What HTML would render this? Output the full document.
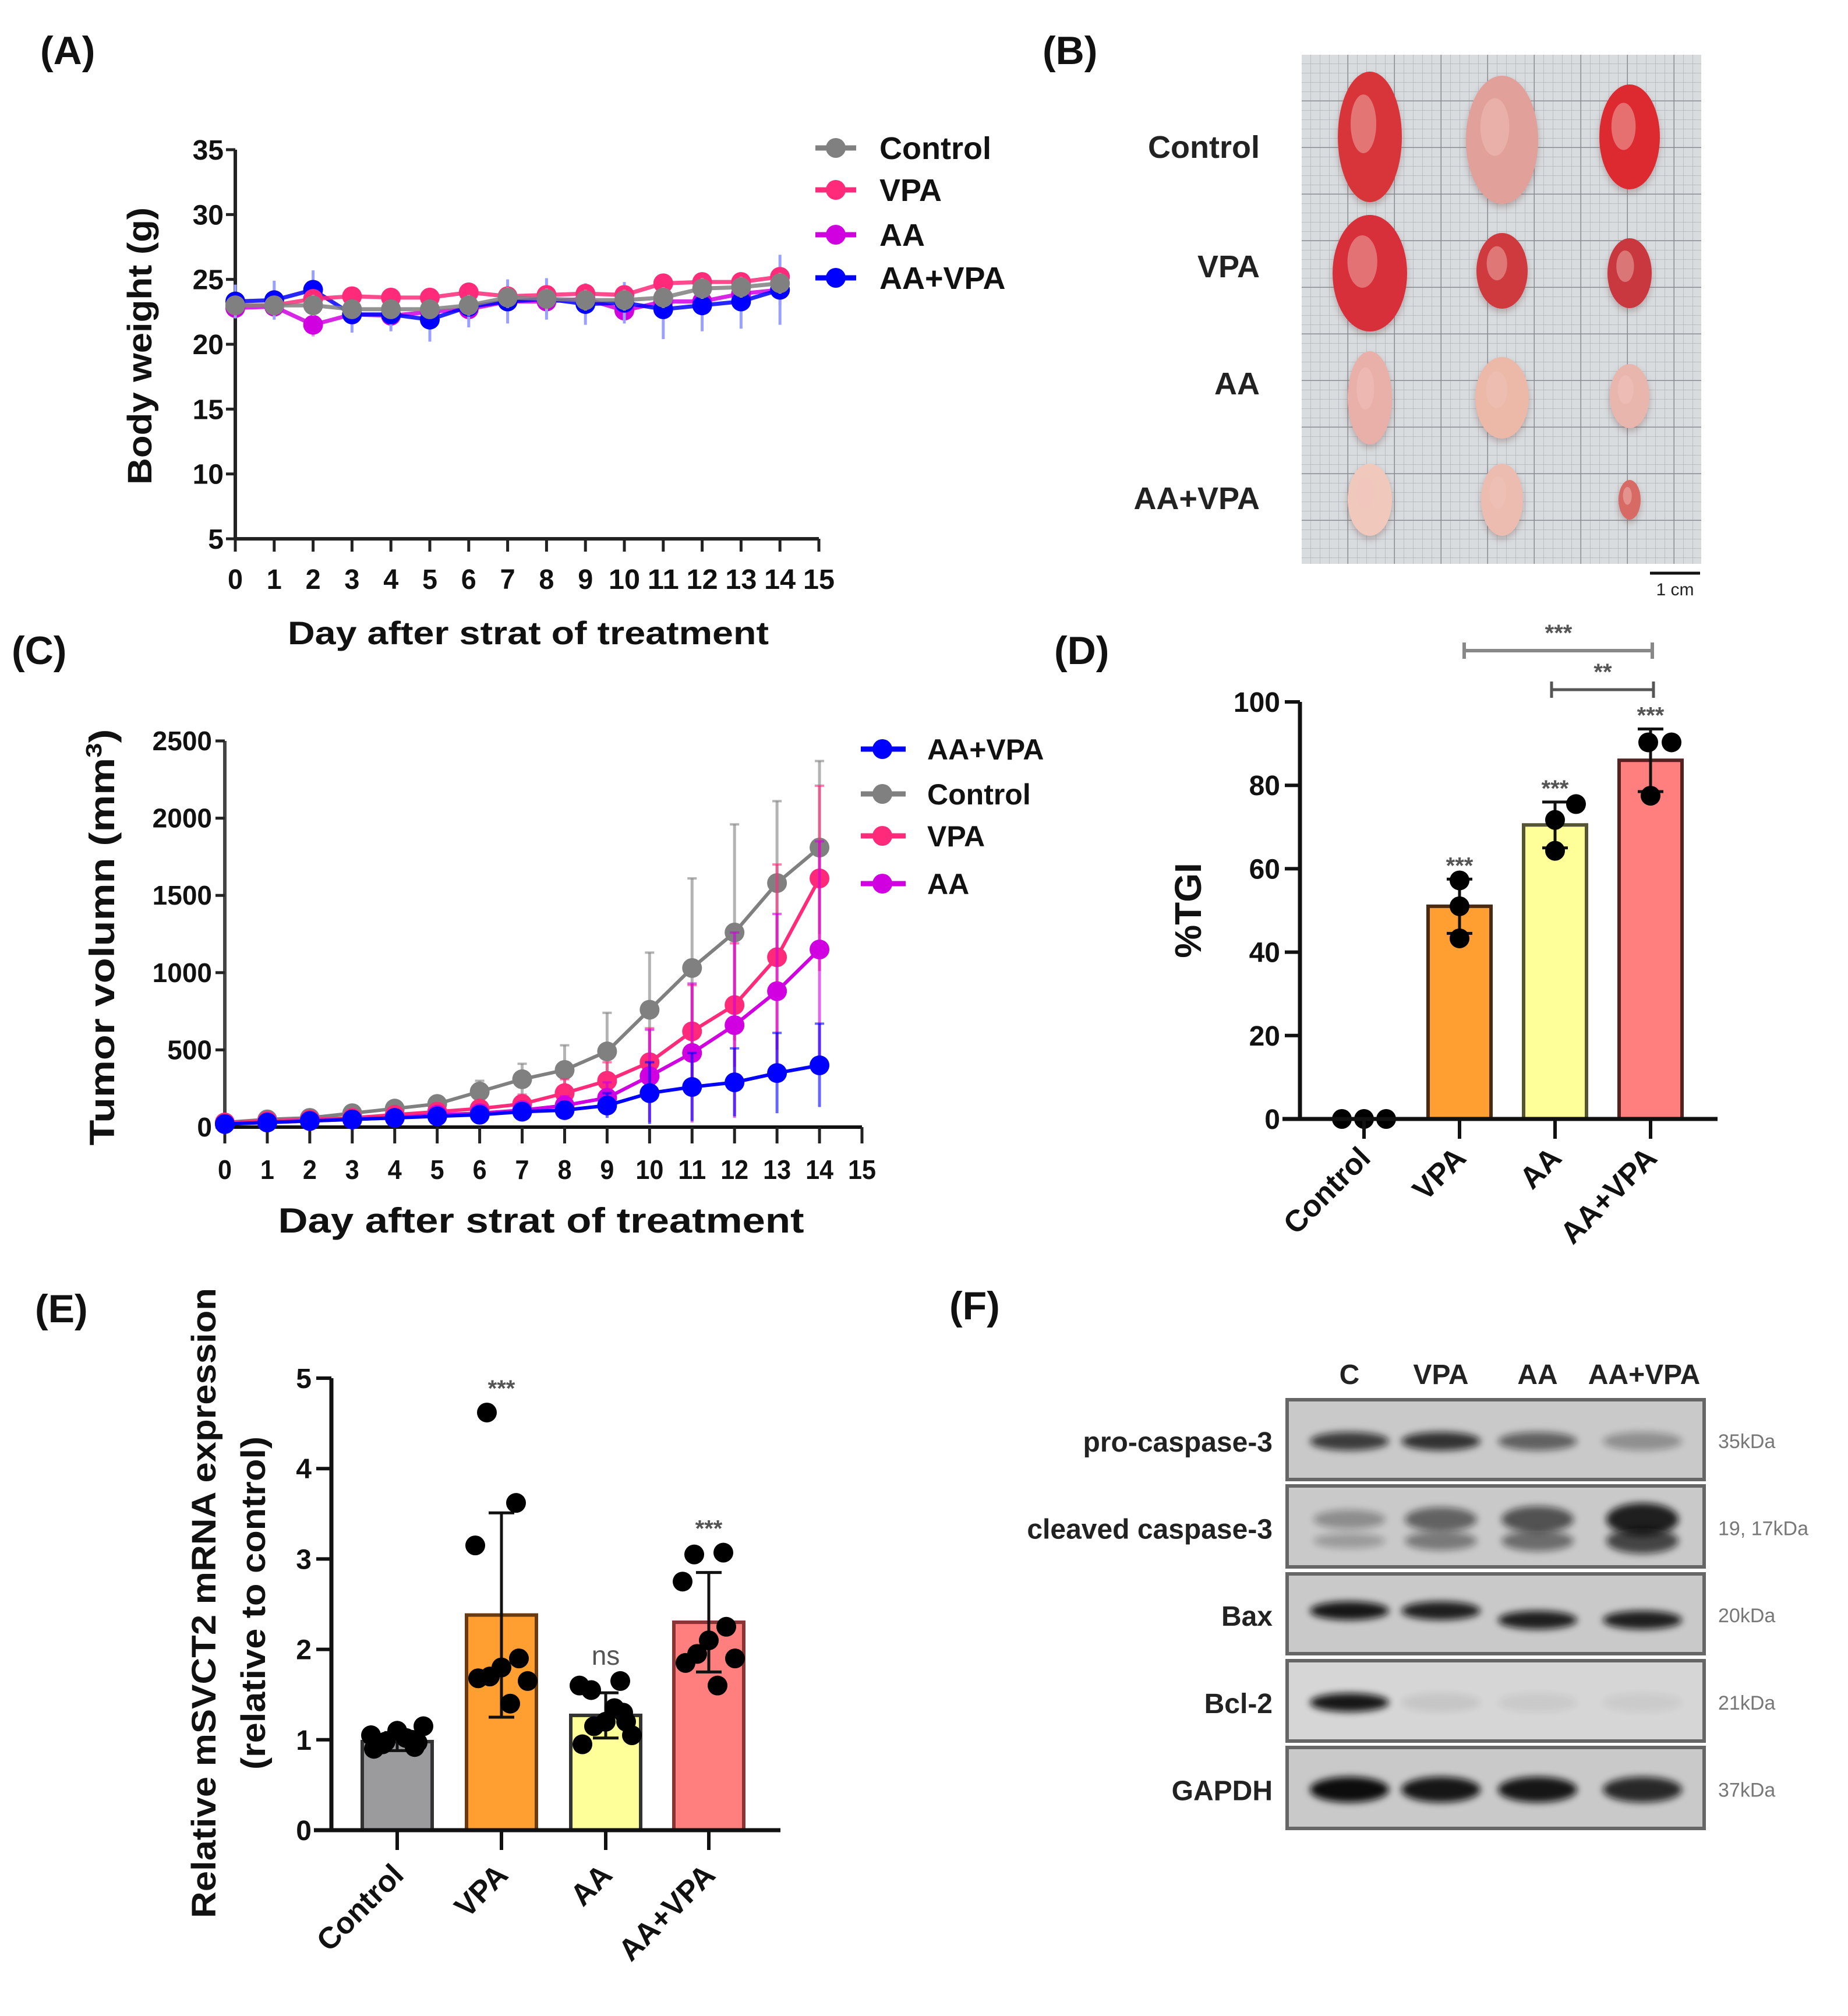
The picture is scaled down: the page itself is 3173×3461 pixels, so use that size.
<!DOCTYPE html>
<html><head><meta charset="utf-8"><style>
html,body{margin:0;padding:0;background:#fff;}
svg{display:block;font-family:"Liberation Sans",Arial,sans-serif;}
</style></head><body>
<svg id="fig" width="3173" height="3461" viewBox="0 0 3173 3461" xmlns="http://www.w3.org/2000/svg">
<defs>
 <filter id="blur6" x="-20%" y="-50%" width="140%" height="200%"><feGaussianBlur stdDeviation="6"/></filter>
 <filter id="blur10" x="-20%" y="-50%" width="140%" height="200%"><feGaussianBlur stdDeviation="10"/></filter>
 <pattern id="grid-minor" width="16" height="16" patternUnits="userSpaceOnUse" x="2235" y="94"><path d="M16 0V16M0 16H16" stroke="#b0b4b8" stroke-width="1.5" fill="none"/></pattern>
 <pattern id="grid-major" width="80" height="80" patternUnits="userSpaceOnUse" x="2235" y="94"><path d="M80 0V80M0 80H80" stroke="#878c90" stroke-width="3" fill="none"/></pattern>
</defs>
<g id="root"></g>
</svg>
<script>
// ---------- Panel A data ----------
const daysA = [0,1,2,3,4,5,6,7,8,9,10,11,12,13,14];
const ticksAx = [0,1,2,3,4,5,6,7,8,9,10,11,12,13,14,15];
const ticksAy = [5,10,15,20,25,30,35];
const seriesNamesA = ["Control","VPA","AA","AA+VPA"];
const bwControl = [23.0,23.0,23.0,22.7,22.7,22.7,23.0,23.6,23.5,23.4,23.4,23.6,24.3,24.4,24.7];
const bwVPA     = [23.0,23.0,23.5,23.7,23.6,23.6,24.0,23.7,23.8,23.9,23.8,24.7,24.8,24.8,25.2];
const bwAA      = [22.8,22.9,21.5,22.3,22.2,22.5,22.7,23.3,23.3,23.5,22.6,23.3,23.3,23.9,24.2];
const bwAAVPA   = [23.3,23.4,24.2,22.3,22.3,21.9,22.9,23.3,23.5,23.1,23.2,22.7,23.0,23.3,24.2];
const sdControl = [0.6,0.6,0.8,0.6,0.6,0.6,0.8,0.8,0.8,0.8,0.8,0.8,0.8,0.8,0.8];
const sdVPA     = [0.6,0.6,0.7,0.6,0.6,0.6,0.7,0.7,0.7,0.7,0.7,0.7,0.7,0.7,0.7];
const sdAA      = [0.8,0.8,0.9,0.8,0.8,0.8,0.9,0.9,0.9,0.9,0.9,0.9,0.9,1.0,1.2];
const sdAAVPA   = [1.3,1.5,1.5,1.4,1.3,1.7,1.6,1.7,1.6,1.6,1.6,2.3,2.0,2.1,2.7];

// ---------- Panel C data ----------
const daysC = [0,1,2,3,4,5,6,7,8,9,10,11,12,13,14];
const ticksCy = [0,500,1000,1500,2000,2500];
const tvControl = [30,50,60,90,120,150,230,310,370,490,760,1030,1260,1580,1810];
const tvVPA     = [30,40,50,60,80,100,120,150,220,300,420,620,790,1100,1610];
const tvAA      = [20,30,40,50,60,80,90,110,140,190,330,480,660,880,1150];
const tvAAVPA   = [20,30,40,50,60,70,80,100,110,140,220,260,290,350,400];
const tsdControl= [10,15,20,30,40,40,70,100,160,250,370,580,700,530,560];
const tsdVPA    = [10,10,15,20,30,30,40,60,90,120,220,300,400,600,600];
const tsdAA     = [10,10,10,15,20,30,40,50,60,100,300,450,600,500,700];
const tsdAAVPA  = [10,10,15,15,20,20,30,40,50,80,200,220,220,260,270];

// ---------- Panel D data ----------
const catsD = ["Control","VPA","AA","AA+VPA"];
const tgiMean = [0,51,70.5,86];
const tgiSD = [0,6.5,5.5,7.5];
const tgiPts = [[0,0,0],[57.2,51,43.3],[75.5,71.7,64.3],[90.3,90.3,77.5]];
const tgiStars = ["","***","***","***"];
const ticksDy = [0,20,40,60,80,100];

// ---------- Panel E data ----------
const catsE = ["Control","VPA","AA","AA+VPA"];
const exMean = [0.98,2.38,1.27,2.3];
const exSD = [0.1,1.13,0.25,0.55];
const exPts = [
 [0.95,1.0,1.05,0.92,1.1,0.98,1.15,0.9,1.02,0.97],
 [4.62,3.62,3.15,1.9,1.8,1.7,1.65,1.68,1.4],
 [1.55,1.65,1.6,1.3,1.2,1.15,1.05,0.95,1.35,1.2],
 [3.05,3.07,2.75,2.25,2.1,1.95,1.9,1.85,1.6]];
const exStars = ["","***","ns","***"];
const ticksEy = [0,1,2,3,4,5];

// ---------- Panel F data ----------
const blotRows = ["pro-caspase-3","cleaved caspase-3","Bax","Bcl-2","GAPDH"];
const blotKDa = ["35kDa","19, 17kDa","20kDa","21kDa","37kDa"];
const blotLanes = ["C","VPA","AA","AA+VPA"];
const blotIntensity = [[0.75,0.8,0.55,0.3],[0.35,0.6,0.7,1.0],[0.95,0.9,0.9,0.9],[0.95,0.08,0.06,0.05],[1.0,0.95,0.95,0.85]];

const NS="http://www.w3.org/2000/svg";
const root=document.getElementById('root');
function mk(tag,attrs,parent){const e=document.createElementNS(NS,tag);for(const k in attrs)e.setAttribute(k,attrs[k]);(parent||root).appendChild(e);return e;}
function txt(s,attrs,parent){const e=mk('text',attrs,parent);e.textContent=s;return e;}
function grp(name){const g=mk('g',{});return g;}

[["(A)",69,110],["(B)",1790,110],["(C)",20,1140],["(D)",1810,1140],["(E)",60,2270],["(F)",1630,2265]].forEach(p=>{
 const t=txt(p[0],{x:p[1],y:p[2],'font-size':68,'font-weight':'bold',fill:'#111'});
 
 
});

// ===== Panel A =====
(function(){
 const g=grp('panel-a-body-weight-chart');
 const x0=404,x1=1406,y0=925,y1=257;
 const sx=d=>x0+(d/15)*(x1-x0), sy=v=>y0-(v-5)/30*(y0-y1);
 mk('line',{x1:x0,y1:y1,x2:x0,y2:y0,stroke:'#222','stroke-width':6},g);
 mk('line',{x1:x0,y1:y0,x2:x1,y2:y0,stroke:'#222','stroke-width':6},g);
 ticksAy.forEach(v=>{mk('line',{x1:x0-16,y1:sy(v),x2:x0,y2:sy(v),stroke:'#222','stroke-width':5},g);
  const t=txt(v,{x:x0-20,y:sy(v)+17,'text-anchor':'end','font-size':48,'font-weight':'bold',fill:'#111'},g);
  });
 ticksAx.forEach(d=>{mk('line',{x1:sx(d),y1:y0,x2:sx(d),y2:y0+22,stroke:'#222','stroke-width':5},g);
  const t=txt(d,{x:sx(d),y:1011,'text-anchor':'middle','font-size':48,'font-weight':'bold',fill:'#111',textLength:d>=10?54:26,lengthAdjust:'spacingAndGlyphs'},g);
  });
 const xt=txt('Day after strat of treatment',{x:907,y:1106,'text-anchor':'middle','font-size':56,'font-weight':'bold',fill:'#111',textLength:826,lengthAdjust:'spacingAndGlyphs'},g);
 
 const yt=txt('Body weight (g)',{x:0,y:0,'text-anchor':'middle','font-size':58,'font-weight':'bold',fill:'#111',transform:'translate(260,594) rotate(-90)',textLength:476,lengthAdjust:'spacingAndGlyphs'},g);
 
 const series=[[bwAA,sdAA,'#d000e0','#f08cf0'],[bwAAVPA,sdAAVPA,'#0000ff','#9aa0ff'],[bwVPA,sdVPA,'#ff2a7a','#ff98bd'],[bwControl,sdControl,'#808080','#b0b0b0']];
 series.forEach((s,si)=>{
  const sg=mk('g',{},g);
  s[0].forEach((v,i)=>{mk('line',{x1:sx(daysA[i]),x2:sx(daysA[i]),y1:sy(v-s[1][i]),y2:sy(v+s[1][i]),stroke:s[3],'stroke-width':5},sg);});
  mk('polyline',{points:s[0].map((v,i)=>sx(daysA[i])+','+sy(v)).join(' '),fill:'none',stroke:s[2],'stroke-width':7,'stroke-opacity':0.85},sg);
  s[0].forEach((v,i)=>{const c=mk('circle',{cx:sx(daysA[i]),cy:sy(v),r:17,fill:s[2]},sg);});
 });
 const leg=[["Control",'#808080'],["VPA",'#ff2a7a'],["AA",'#d000e0'],["AA+VPA",'#0000ff']];
 const ly=[254,326,403,477];
 leg.forEach((l,i)=>{const lg=mk('g',{},g);
  mk('line',{x1:1400,x2:1470,y1:ly[i],y2:ly[i],stroke:l[1],'stroke-width':9},lg);
  mk('circle',{cx:1435,cy:ly[i],r:17,fill:l[1]},lg);
  txt(l[0],{x:1510,y:ly[i]+19,'font-size':54,'font-weight':'bold',fill:'#111'},lg);});
})();

// ===== Panel B photo =====
(function(){
 const g=grp('panel-b-tumor-photo');
 mk('rect',{x:2235,y:94,width:686,height:874,fill:'#d8dcdf'},g);
 mk('rect',{x:2235,y:94,width:686,height:874,fill:'url(#grid-minor)'},g);
 mk('rect',{x:2235,y:94,width:686,height:874,fill:'url(#grid-major)'},g);
 const tum=[[2352,235,55,112,'#d8353a'],[2579,240,62,110,'#e2a09a'],[2798,235,52,90,'#dc2a30'],
  [2352,469,64,100,'#d8303a'],[2579,465,44,65,'#cf3a3e'],[2798,469,38,60,'#c9383e'],
  [2352,683,38,80,'#e8b0a8'],[2579,683,46,70,'#ecb8a8'],[2798,680,34,55,'#e9b6ae'],
  [2352,858,38,62,'#f0c8bc'],[2579,858,36,62,'#ecbcb0'],[2798,858,19,34,'#d86a66']];
 tum.forEach(t=>{mk('ellipse',{cx:t[0],cy:t[1]+6,rx:t[2],ry:t[3],fill:'#7a5a5a',opacity:0.4,filter:'url(#blur6)'},g);
  const e=mk('ellipse',{cx:t[0],cy:t[1],rx:t[2],ry:t[3],fill:t[4]},g);
  mk('ellipse',{cx:t[0]-t[2]*0.2,cy:t[1]-t[3]*0.2,rx:t[2]*0.4,ry:t[3]*0.45,fill:'#f2c4bc',opacity:0.45},g);});
 [["Control",251],["VPA",456],["AA",657],["AA+VPA",854]].forEach(l=>{const t=txt(l[0],{x:2163,y:l[1]+20,'text-anchor':'end','font-size':54,'font-weight':'bold',fill:'#222'},g);
  });
 mk('line',{x1:2833,x2:2919,y1:984,y2:984,stroke:'#111','stroke-width':5},g);
 txt('1 cm',{x:2876,y:1022,'text-anchor':'middle','font-size':30,fill:'#222'},g);
})();

// ===== Panel C =====
(function(){
 const g=grp('panel-c-tumor-volume-chart');
 const x0=386,x1=1480,y0=1935,y1=1272;
 const sx=d=>x0+(d/15)*(x1-x0), sy=v=>y0-v/2500*(y0-y1);
 mk('line',{x1:x0,y1:y1,x2:x0,y2:y0,stroke:'#444','stroke-width':6},g);
 mk('line',{x1:x0,y1:y0,x2:x1,y2:y0,stroke:'#111','stroke-width':6},g);
 ticksCy.forEach(v=>{mk('line',{x1:x0-16,y1:sy(v),x2:x0,y2:sy(v),stroke:'#222','stroke-width':5},g);
  const t=txt(v,{x:x0-22,y:sy(v)+16,'text-anchor':'end','font-size':46,'font-weight':'bold',fill:'#111'},g);
  });
 ticksAx.forEach(d=>{mk('line',{x1:sx(d),y1:y0,x2:sx(d),y2:y0+28,stroke:'#222','stroke-width':5},g);
  const t=txt(d,{x:sx(d),y:2024,'text-anchor':'middle','font-size':46,'font-weight':'bold',fill:'#111',textLength:d>=10?48:24,lengthAdjust:'spacingAndGlyphs'},g);
  });
 const xt=txt('Day after strat of treatment',{x:929,y:2116,'text-anchor':'middle','font-size':60,'font-weight':'bold',fill:'#111',textLength:903,lengthAdjust:'spacingAndGlyphs'},g);
 
 const yt=mk('text',{x:0,y:0,'text-anchor':'middle','font-size':60,'font-weight':'bold',fill:'#111',transform:'translate(196,1609) rotate(-90)',textLength:715,lengthAdjust:'spacingAndGlyphs'},g);
 yt.innerHTML='Tumor volumn (mm<tspan dy="-22" font-size="38">3</tspan><tspan dy="22">)</tspan>';
 
 const series=[[tvControl,tsdControl,'#808080','control'],[tvVPA,tsdVPA,'#ff2a7a','vpa'],[tvAA,tsdAA,'#d000e0','aa'],[tvAAVPA,tsdAAVPA,'#0000ff','aa-vpa']];
 series.forEach(s=>{
  const sg=mk('g',{},g);
  s[0].forEach((v,i)=>{mk('line',{x1:sx(daysC[i]),x2:sx(daysC[i]),y1:sy(Math.max(0,v-s[1][i])),y2:sy(v+s[1][i]),stroke:s[2],'stroke-width':5,'stroke-opacity':0.6},sg);
   mk('line',{x1:sx(daysC[i])-8,x2:sx(daysC[i])+8,y1:sy(v+s[1][i]),y2:sy(v+s[1][i]),stroke:s[2],'stroke-width':4,'stroke-opacity':0.6},sg);});
  mk('polyline',{points:s[0].map((v,i)=>sx(daysC[i])+','+sy(v)).join(' '),fill:'none',stroke:s[2],'stroke-width':6},sg);
  s[0].forEach((v,i)=>{const c=mk('circle',{cx:sx(daysC[i]),cy:sy(v),r:17,fill:s[2]},sg);});
 });
 const leg=[["AA+VPA",'#0000ff'],["Control",'#808080'],["VPA",'#ff2a7a'],["AA",'#d000e0']];
 const ly=[1286,1363,1435,1517];
 leg.forEach((l,i)=>{const lg=mk('g',{},g);
  mk('line',{x1:1478,x2:1555,y1:ly[i],y2:ly[i],stroke:l[1],'stroke-width':9},lg);
  mk('circle',{cx:1515,cy:ly[i],r:17,fill:l[1]},lg);
  txt(l[0],{x:1592,y:ly[i]+18,'font-size':50,'font-weight':'bold',fill:'#111'},lg);});
})();

function barChart(name,o){
 const g=grp(name);
 const sy=v=>o.y0-(v-o.vmin)/(o.vmax-o.vmin)*(o.y0-o.y1);
 o.means.forEach((m,i)=>{const b=mk('rect',{x:o.cx[i]-o.bw/2,y:sy(m),width:o.bw,height:sy(0)-sy(m),fill:o.colors[i],stroke:o.strokes[i],'stroke-width':6},g);
  });
 o.means.forEach((m,i)=>{if(o.sd[i]>0){mk('line',{x1:o.cx[i],x2:o.cx[i],y1:sy(m-o.sd[i]),y2:sy(m+o.sd[i]),stroke:'#111','stroke-width':5},g);
  [m-o.sd[i],m+o.sd[i]].forEach(v=>mk('line',{x1:o.cx[i]-22,x2:o.cx[i]+22,y1:sy(v),y2:sy(v),stroke:'#111','stroke-width':5},g));}});
 o.pts.forEach((arr,i)=>arr.forEach((v,j)=>{const jj=o.jitG?o.jitG[i]:o.jit;const off=jj[j%jj.length];
  const c=mk('circle',{cx:o.cx[i]+off,cy:sy(v),r:o.pr,fill:'#000'},g);}));
 mk('line',{x1:o.x0,y1:o.y1,x2:o.x0,y2:sy(0)+3,stroke:'#111','stroke-width':7},g);
 mk('line',{x1:o.x0-30,y1:sy(0),x2:o.xe,y2:sy(0),stroke:'#111','stroke-width':7},g);
 o.ticks.forEach(v=>{mk('line',{x1:o.x0-26,x2:o.x0,y1:sy(v),y2:sy(v),stroke:'#111','stroke-width':6},g);
  const t=txt(v,{x:o.x0-34,y:sy(v)+17,'text-anchor':'end','font-size':48,'font-weight':'bold',fill:'#111'},g);
  });
 o.cx.forEach((x,i)=>{mk('line',{x1:x,x2:x,y1:sy(0),y2:sy(0)+34,stroke:'#111','stroke-width':6},g);
  const t=txt(o.cats[i],{x:0,y:0,'text-anchor':'end','font-size':52,'font-weight':'bold',fill:'#111',transform:'translate('+(x+14)+','+(sy(0)+o.labOff)+') rotate(-45)'},g);
  });
 o.stars.forEach((s,i)=>{if(!s)return;const top=Math.max(o.means[i]+o.sd[i],...o.pts[i]);
  const t=txt(s,{x:o.cx[i],y:sy(top)-o.starGap,'text-anchor':'middle','font-size':s==='ns'?46:40,'font-weight':s==='ns'?'normal':'bold',fill:'#555'},g);
  });
 return {g,sy};
}

// ===== Panel D =====
(function(){
 const cx=[2342,2506,2670,2834];
 const r=barChart('panel-d-tgi-chart',{x0:2232,xe:2949,y0:1921,y1:1205,vmin:0,vmax:100,cx,bw:108,means:tgiMean,sd:tgiSD,pts:tgiPts,
  colors:['#999','#ff9f32','#ffff99','#ff7f7f'],strokes:['#333','#4a2a10','#555533','#552222'],jit:[0,0,0],jitG:[[-38,0,38],[0,0,0],[36,0,0],[-4,36,0]],pr:17,ticks:ticksDy,cats:catsD,stars:tgiStars,starGap:10,labOff:70});
 const g=r.g;
 const yt=txt('%TGI',{x:0,y:0,'text-anchor':'middle','font-size':64,'font-weight':'bold',fill:'#111',transform:'translate(2062,1563) rotate(-90)'},g);
 
 const b1=mk('g',{},g);
 mk('path',{d:'M2514 1103V1131M2514 1117H2837M2837 1103V1131',stroke:'#888','stroke-width':6,fill:'none'},b1);
 txt('***',{x:2676,y:1100,'text-anchor':'middle','font-size':40,'font-weight':'bold',fill:'#555'},b1);
 const b2=mk('g',{},g);
 mk('path',{d:'M2664 1170V1198M2664 1184H2839M2839 1170V1198',stroke:'#555','stroke-width':5,fill:'none'},b2);
 txt('**',{x:2752,y:1167,'text-anchor':'middle','font-size':40,'font-weight':'bold',fill:'#555'},b2);
})();

// ===== Panel E =====
(function(){
 const cx=[682,861,1040,1217];
 const r=barChart('panel-e-svct2-chart',{x0:569,xe:1340,y0:3142,y1:2366,vmin:0,vmax:5,cx,bw:120,means:exMean,sd:exSD,pts:exPts,
  colors:['#9b9b9e','#ff9f32','#ffff99','#ff7f7f'],strokes:['#333','#6a3a10','#333','#8a3535'],jit:[-25,25,-45,30,0,-20,45,-40,15,35],pr:17,ticks:ticksEy,cats:catsE,stars:exStars,starGap:28,labOff:80});
 const g=r.g;
 const t1=txt('Relative mSVCT2 mRNA expression',{x:0,y:0,'text-anchor':'middle','font-size':58,'font-weight':'bold',fill:'#111',transform:'translate(370,2752) rotate(-90)',textLength:1082,lengthAdjust:'spacingAndGlyphs'},g);
 
 const t2=txt('(relative to control)',{x:0,y:0,'text-anchor':'middle','font-size':58,'font-weight':'bold',fill:'#111',transform:'translate(455,2752) rotate(-90)',textLength:572,lengthAdjust:'spacingAndGlyphs'},g);
 
})();

// ===== Panel F =====
(function(){
 const g=grp('panel-f-western-blot');
 const laneX=[2317,2474,2640,2843];
 const rowY=[[2403,2540],[2551,2690],[2702,2839],[2851,2989],[3000,3139]];
 blotLanes.forEach((l,i)=>{const t=txt(l,{x:laneX[i]-(i==3?20:0),y:2376,'text-anchor':'middle','font-size':48,'font-weight':'bold',fill:'#222'},g);
  });
 blotRows.forEach((r,ri)=>{
  const rg=mk('g',{},g);
  const y=rowY[ri][0],h=rowY[ri][1]-y;
  mk('rect',{x:2210,y:y,width:716,height:h,fill:ri==3?'#d6d6d6':'#c9c9c9',stroke:'#666','stroke-width':6},rg);
  const cy=y+h*0.52;
  blotIntensity[ri].forEach((v,li)=>{
   const bx=[2317,2474,2640,2820][li];
   if(ri==1){
    mk('ellipse',{cx:bx,cy:cy-15,rx:62,ry:10+v*18,fill:'#111',opacity:Math.min(1,v*0.9),filter:'url(#blur6)'},rg);
    mk('ellipse',{cx:bx,cy:cy+22,rx:62,ry:8+v*14,fill:'#111',opacity:v*0.7,filter:'url(#blur6)'},rg);
   } else {
    mk('ellipse',{cx:bx,cy:ri==2&&li>=2?cy+8:cy-(ri==2?8:0),rx:68,ry:ri==4?22:16,fill:'#0a0a0a',opacity:v,filter:'url(#blur6)'},rg);
   }
  });
  const t=txt(r,{x:2185,y:y+h*0.52+18,'text-anchor':'end','font-size':48,'font-weight':'bold',fill:'#222'},rg);
  
  const k=txt(blotKDa[ri],{x:2950,y:y+h*0.52+12,'font-size':34,fill:'#777'},rg);
  
 });
})();
</script>
</body></html>
